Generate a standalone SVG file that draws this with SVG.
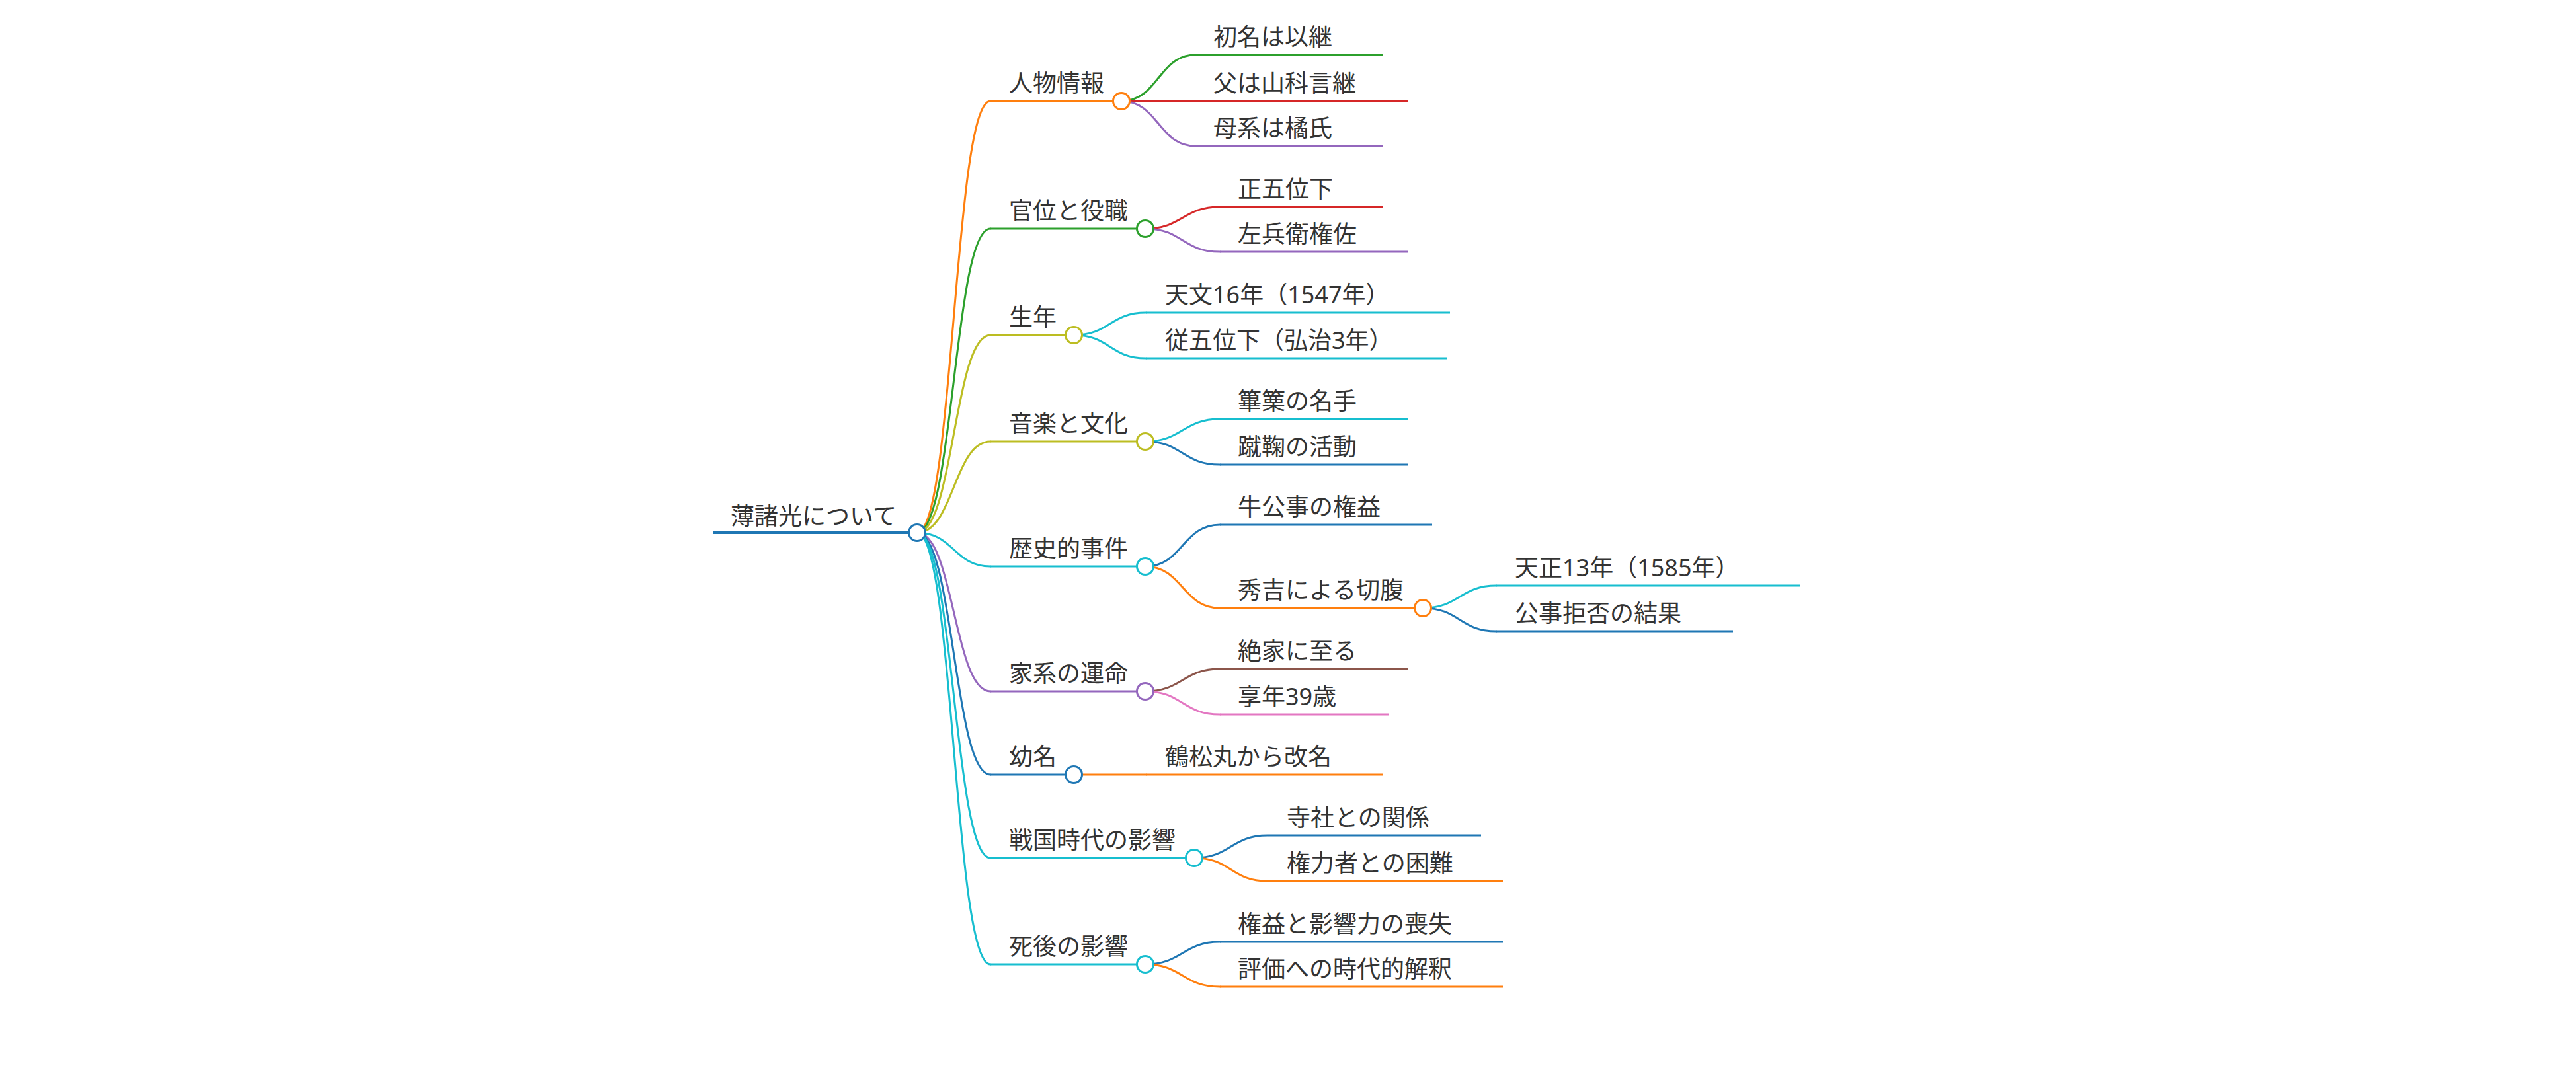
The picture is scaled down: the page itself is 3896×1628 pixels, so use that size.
<svg xmlns="http://www.w3.org/2000/svg" width="3896" height="1628" viewBox="0 0 3896 1628">
<style>
text{font-family:"Noto Sans","Noto Sans CJK JP",sans-serif;font-size:36px;fill:#333}
.l{fill:none;stroke-width:3;stroke-linecap:round}
.u{stroke-width:3}
.c{fill:#fff;stroke-width:3}
.blue{stroke:#1f77b4}.orange{stroke:#ff7f0e}.green{stroke:#2ca02c}.red{stroke:#d62728}.purple{stroke:#9467bd}.brown{stroke:#8c564b}.pink{stroke:#e377c2}.olive{stroke:#bcbd22}.cyan{stroke:#17becf}
</style>
<rect width="3896" height="1628" fill="#fff"/>
<g id="connectors">
<path class="l orange" d="M1387,806 C1442.5,806 1442.5,153 1498,153"/>
<path class="l green" d="M1387,806 C1442.5,806 1442.5,346 1498,346"/>
<path class="l olive" d="M1387,806 C1442.5,806 1442.5,507 1498,507"/>
<path class="l olive" d="M1387,806 C1442.5,806 1442.5,668 1498,668"/>
<path class="l cyan" d="M1387,806 C1442.5,806 1442.5,857 1498,857"/>
<path class="l purple" d="M1387,806 C1442.5,806 1442.5,1046 1498,1046"/>
<path class="l blue" d="M1387,806 C1442.5,806 1442.5,1172 1498,1172"/>
<path class="l cyan" d="M1387,806 C1442.5,806 1442.5,1298 1498,1298"/>
<path class="l cyan" d="M1387,806 C1442.5,806 1442.5,1459 1498,1459"/>
<path class="l green" d="M1696,153 C1752,153 1752,83 1808,83"/>
<path class="l red" d="M1696,153 L1808,153"/>
<path class="l purple" d="M1696,153 C1752,153 1752,221 1808,221"/>
<path class="l red" d="M1732,346 C1788.5,346 1788.5,313 1845,313"/>
<path class="l purple" d="M1732,346 C1788.5,346 1788.5,381 1845,381"/>
<path class="l cyan" d="M1624,507 C1678.5,507 1678.5,473 1733,473"/>
<path class="l cyan" d="M1624,507 C1678.5,507 1678.5,542 1733,542"/>
<path class="l cyan" d="M1732,668 C1788.5,668 1788.5,634 1845,634"/>
<path class="l blue" d="M1732,668 C1788.5,668 1788.5,703 1845,703"/>
<path class="l blue" d="M1732,857 C1788.5,857 1788.5,794 1845,794"/>
<path class="l orange" d="M1732,857 C1788.5,857 1788.5,920 1845,920"/>
<path class="l cyan" d="M2152,920 C2207.5,920 2207.5,886 2263,886"/>
<path class="l blue" d="M2152,920 C2207.5,920 2207.5,955 2263,955"/>
<path class="l brown" d="M1732,1046 C1788.5,1046 1788.5,1012 1845,1012"/>
<path class="l pink" d="M1732,1046 C1788.5,1046 1788.5,1081 1845,1081"/>
<path class="l orange" d="M1624,1172 L1733,1172"/>
<path class="l blue" d="M1806,1298 C1861.5,1298 1861.5,1264 1917,1264"/>
<path class="l orange" d="M1806,1298 C1861.5,1298 1861.5,1333 1917,1333"/>
<path class="l blue" d="M1732,1459 C1788.5,1459 1788.5,1425 1845,1425"/>
<path class="l orange" d="M1732,1459 C1788.5,1459 1788.5,1493 1845,1493"/>
</g>
<g id="root"><line class="blue" stroke-width="4" x1="1079" y1="806" x2="1387" y2="806"/><text x="1105" y="794">薄諸光について</text><circle class="c blue" cx="1387" cy="806" r="12.5"/></g>
<g id="n1"><line class="u orange" x1="1498" y1="153" x2="1696" y2="153"/><text x="1526" y="139">人物情報</text><circle class="c orange" cx="1696" cy="153" r="12.5"/></g>
<g id="n1a"><line class="u green" x1="1808" y1="83" x2="2092" y2="83"/><text x="1835" y="69">初名は以継</text></g>
<g id="n1b"><line class="u red" x1="1808" y1="153" x2="2129" y2="153"/><text x="1835" y="139">父は山科言継</text></g>
<g id="n1c"><line class="u purple" x1="1808" y1="221" x2="2092" y2="221"/><text x="1835" y="207">母系は橘氏</text></g>
<g id="n2"><line class="u green" x1="1498" y1="346" x2="1732" y2="346"/><text x="1526" y="332">官位と役職</text><circle class="c green" cx="1732" cy="346" r="12.5"/></g>
<g id="n2a"><line class="u red" x1="1845" y1="313" x2="2092" y2="313"/><text x="1872" y="299">正五位下</text></g>
<g id="n2b"><line class="u purple" x1="1845" y1="381" x2="2129" y2="381"/><text x="1872" y="367">左兵衛権佐</text></g>
<g id="n3"><line class="u olive" x1="1498" y1="507" x2="1624" y2="507"/><text x="1526" y="493">生年</text><circle class="c olive" cx="1624" cy="507" r="12.5"/></g>
<g id="n3a"><line class="u cyan" x1="1733" y1="473" x2="2193" y2="473"/><text x="1762" y="459">天文16年（1547年）</text></g>
<g id="n3b"><line class="u cyan" x1="1733" y1="542" x2="2188" y2="542"/><text x="1762" y="528">従五位下（弘治3年）</text></g>
<g id="n4"><line class="u olive" x1="1498" y1="668" x2="1732" y2="668"/><text x="1526" y="654">音楽と文化</text><circle class="c olive" cx="1732" cy="668" r="12.5"/></g>
<g id="n4a"><line class="u cyan" x1="1845" y1="634" x2="2129" y2="634"/><text x="1872" y="620">篳篥の名手</text></g>
<g id="n4b"><line class="u blue" x1="1845" y1="703" x2="2129" y2="703"/><text x="1872" y="689">蹴鞠の活動</text></g>
<g id="n5"><line class="u cyan" x1="1498" y1="857" x2="1732" y2="857"/><text x="1526" y="843">歴史的事件</text><circle class="c cyan" cx="1732" cy="857" r="12.5"/></g>
<g id="n5a"><line class="u blue" x1="1845" y1="794" x2="2166" y2="794"/><text x="1872" y="780">牛公事の権益</text></g>
<g id="n5b"><line class="u orange" x1="1845" y1="920" x2="2152" y2="920"/><text x="1872" y="906">秀吉による切腹</text><circle class="c orange" cx="2152" cy="920" r="12.5"/></g>
<g id="n5b1"><line class="u cyan" x1="2263" y1="886" x2="2723" y2="886"/><text x="2291" y="872">天正13年（1585年）</text></g>
<g id="n5b2"><line class="u blue" x1="2263" y1="955" x2="2621" y2="955"/><text x="2291" y="941">公事拒否の結果</text></g>
<g id="n6"><line class="u purple" x1="1498" y1="1046" x2="1732" y2="1046"/><text x="1526" y="1032">家系の運命</text><circle class="c purple" cx="1732" cy="1046" r="12.5"/></g>
<g id="n6a"><line class="u brown" x1="1845" y1="1012" x2="2129" y2="1012"/><text x="1872" y="998">絶家に至る</text></g>
<g id="n6b"><line class="u pink" x1="1845" y1="1081" x2="2101" y2="1081"/><text x="1872" y="1067">享年39歳</text></g>
<g id="n7"><line class="u blue" x1="1498" y1="1172" x2="1624" y2="1172"/><text x="1526" y="1158">幼名</text><circle class="c blue" cx="1624" cy="1172" r="12.5"/></g>
<g id="n7a"><line class="u orange" x1="1733" y1="1172" x2="2092" y2="1172"/><text x="1762" y="1158">鶴松丸から改名</text></g>
<g id="n8"><line class="u cyan" x1="1498" y1="1298" x2="1806" y2="1298"/><text x="1526" y="1284">戦国時代の影響</text><circle class="c cyan" cx="1806" cy="1298" r="12.5"/></g>
<g id="n8a"><line class="u blue" x1="1917" y1="1264" x2="2240" y2="1264"/><text x="1946" y="1250">寺社との関係</text></g>
<g id="n8b"><line class="u orange" x1="1917" y1="1333" x2="2273" y2="1333"/><text x="1946" y="1319">権力者との困難</text></g>
<g id="n9"><line class="u cyan" x1="1498" y1="1459" x2="1732" y2="1459"/><text x="1526" y="1445">死後の影響</text><circle class="c cyan" cx="1732" cy="1459" r="12.5"/></g>
<g id="n9a"><line class="u blue" x1="1845" y1="1425" x2="2273" y2="1425"/><text x="1872" y="1411">権益と影響力の喪失</text></g>
<g id="n9b"><line class="u orange" x1="1845" y1="1493" x2="2273" y2="1493"/><text x="1872" y="1479">評価への時代的解釈</text></g>
</svg>
